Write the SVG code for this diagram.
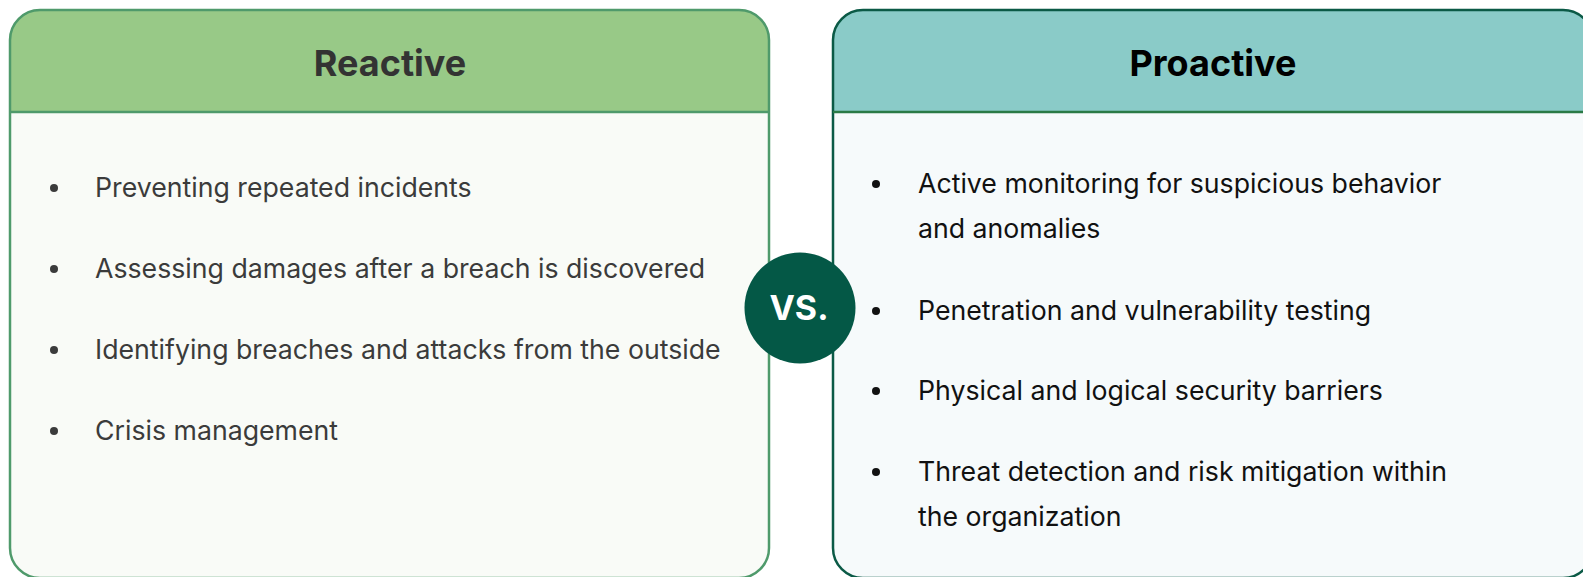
<svg xmlns="http://www.w3.org/2000/svg" width="1583" height="577" viewBox="0 0 1583 577">
  <style>
    .title { font-family: Inter, "Noto Sans", sans-serif; font-weight: 700; font-size: 36px; text-anchor: middle; }
    .item { font-family: Inter, "Liberation Sans", sans-serif; font-size: 26.7px; }
    .left .item, .left .dot { fill: #3b3b3b; }
    .right .item, .right .dot { fill: #111111; }
  </style>
  <rect width="1583" height="577" fill="#ffffff"/>

  <!-- Reactive card -->
  <g id="reactive" class="left">
    <path d="M10 112 V40 A30 30 0 0 1 40 10 H739 A30 30 0 0 1 769 40 V112 Z" fill="#98c987"/>
    <path d="M10 112 V548 A30 30 0 0 0 40 578 H739 A30 30 0 0 0 769 548 V112 Z" fill="#f9fbf7"/>
    <rect x="10" y="10" width="759" height="568" rx="30" fill="none" stroke="#4f9a6b" stroke-width="2.5"/>
    <line x1="10" y1="112" x2="769" y2="112" stroke="#4f9a6b" stroke-width="2.5"/>
    <text class="title" x="390" y="76" fill="#333333">Reactive</text>
    <circle class="dot" cx="54" cy="188" r="4"/>
    <text class="item" x="95" y="197">Preventing repeated incidents</text>
    <circle class="dot" cx="54" cy="269" r="4"/>
    <text class="item" x="95" y="278">Assessing damages after a breach is discovered</text>
    <circle class="dot" cx="54" cy="350" r="4"/>
    <text class="item" x="95" y="359">Identifying breaches and attacks from the outside</text>
    <circle class="dot" cx="54" cy="431" r="4"/>
    <text class="item" x="95" y="440">Crisis management</text>
  </g>

  <!-- Proactive card -->
  <g id="proactive" class="right">
    <path d="M833 112 V40 A30 30 0 0 1 863 10 H1563 A30 30 0 0 1 1593 40 V112 Z" fill="#8acbc8"/>
    <path d="M833 112 V548 A30 30 0 0 0 863 578 H1563 A30 30 0 0 0 1593 548 V112 Z" fill="#f6fafb"/>
    <rect x="833" y="10" width="760" height="568" rx="30" fill="none" stroke="#0b5a46" stroke-width="2.5"/>
    <line x1="833" y1="112" x2="1593" y2="112" stroke="#2a7a46" stroke-width="2.5"/>
    <text class="title" x="1213" y="76" fill="#000000">Proactive</text>
    <circle class="dot" cx="876" cy="184" r="4"/>
    <text class="item" x="918" y="193">Active monitoring for suspicious behavior</text>
    <text class="item" x="918" y="238">and anomalies</text>
    <circle class="dot" cx="876" cy="311" r="4"/>
    <text class="item" x="918" y="320">Penetration and vulnerability testing</text>
    <circle class="dot" cx="876" cy="391" r="4"/>
    <text class="item" x="918" y="400">Physical and logical security barriers</text>
    <circle class="dot" cx="876" cy="472" r="4"/>
    <text class="item" x="918" y="481">Threat detection and risk mitigation within</text>
    <text class="item" x="918" y="526">the organization</text>
  </g>

  <!-- VS badge -->
  <g id="vs">
    <circle cx="800" cy="308" r="55.5" fill="#045846"/>
    <text x="799" y="320" font-family="Inter, 'Noto Sans', sans-serif" font-weight="700" font-size="34" fill="#ffffff" text-anchor="middle">VS.</text>
  </g>
</svg>
